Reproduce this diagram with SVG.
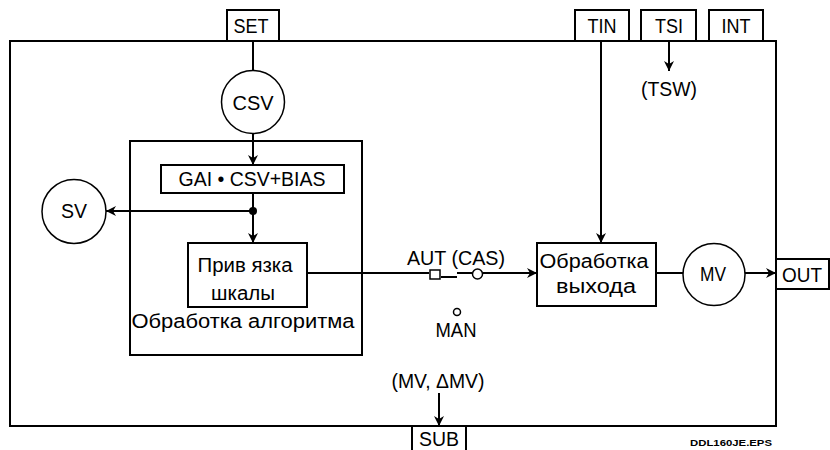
<svg xmlns="http://www.w3.org/2000/svg" width="830" height="450" viewBox="0 0 830 450">
<defs>
<marker id="ah" viewBox="0 0 10 10" refX="10" refY="5" markerWidth="10" markerHeight="10" markerUnits="userSpaceOnUse" orient="auto">
<path d="M0,0 L10,5 L0,10 L3,5 Z" fill="#000"/>
</marker>
</defs>
<style>
text{font-family:"Liberation Sans",Arial,sans-serif;font-size:20px;fill:#000}
.box{fill:#fff;stroke:#000;stroke-width:2}
.circ{fill:#fff;stroke:#000;stroke-width:1.5}
.ln{fill:none;stroke:#000;stroke-width:2}
.arr{fill:none;stroke:#000;stroke-width:2;marker-end:url(#ah)}
.c{text-anchor:middle}
.tag{font-size:9px;font-weight:bold}
</style>
<rect width="830" height="450" fill="#fff"/>
<g id="frame"><rect x="10" y="41" width="766" height="385" fill="none" stroke="#000" stroke-width="2"/></g>
<g id="algo"><rect x="130" y="141" width="232" height="214" class="box"/>
<text x="243" y="328" class="c" textLength="223" lengthAdjust="spacingAndGlyphs">Обработка алгоритма</text></g>
<g id="connectors">
<line x1="253" y1="41" x2="253" y2="70" class="ln"/>
<line x1="253" y1="133" x2="253" y2="165" class="arr"/>
<line x1="253" y1="193" x2="253" y2="211" class="ln"/>
<line x1="253" y1="211" x2="106" y2="211" class="arr"/>
<line x1="253" y1="211" x2="253" y2="243" class="arr"/>
<circle cx="253" cy="211" r="4" fill="#000"/>
<polyline points="307,273 429,273" class="ln"/>
<polyline points="441,277 457,277" class="ln"/>
<polyline points="457,273 472,273" class="ln"/>
<line x1="483" y1="273" x2="537" y2="273" class="arr"/>
<line x1="601" y1="41" x2="601" y2="243" class="arr"/>
<line x1="669" y1="41" x2="669" y2="71" class="arr"/>
<line x1="656" y1="273" x2="683" y2="273" class="ln"/>
<line x1="745" y1="273" x2="776" y2="273" class="arr"/>
<line x1="439" y1="393" x2="439" y2="426" class="arr"/>
<rect x="430" y="270" width="10" height="9" fill="#fff" stroke="#000" stroke-width="1.5"/>
<circle cx="477.5" cy="274" r="5" fill="#fff" stroke="#000" stroke-width="1.5"/>
<circle cx="457" cy="312" r="3.5" fill="#fff" stroke="#000" stroke-width="1.5"/>
</g>
<g id="set"><rect x="227" y="10" width="52" height="31" class="box"/><text x="251" y="33" class="c" textLength="35" lengthAdjust="spacingAndGlyphs">SET</text></g>
<g id="tin"><rect x="575" y="10" width="54" height="31" class="box"/><text x="602" y="33" class="c" textLength="29" lengthAdjust="spacingAndGlyphs">TIN</text></g>
<g id="tsi"><rect x="641" y="10" width="55" height="31" class="box"/><text x="669" y="33" class="c" textLength="28" lengthAdjust="spacingAndGlyphs">TSI</text></g>
<g id="int"><rect x="709" y="10" width="54" height="31" class="box"/><text x="736" y="33" class="c" textLength="29" lengthAdjust="spacingAndGlyphs">INT</text></g>
<g id="tsw"><text x="669" y="96" class="c" textLength="56" lengthAdjust="spacingAndGlyphs">(TSW)</text></g>
<g id="csv"><circle cx="253" cy="102" r="31.5" class="circ"/><text x="253" y="110" class="c" textLength="41" lengthAdjust="spacingAndGlyphs">CSV</text></g>
<g id="gai"><rect x="161" y="165" width="183" height="28" class="box"/><text x="252" y="186" class="c" textLength="147" lengthAdjust="spacingAndGlyphs">GAI • CSV+BIAS</text></g>
<g id="sv"><circle cx="74" cy="211.5" r="32" class="circ"/><text x="74" y="218" class="c" textLength="26" lengthAdjust="spacingAndGlyphs">SV</text></g>
<g id="scale"><rect x="188" y="243" width="119" height="64" class="box"/>
<text x="245" y="272" class="c" textLength="95" lengthAdjust="spacingAndGlyphs">Прив язка</text>
<text x="243" y="300" class="c" textLength="64" lengthAdjust="spacingAndGlyphs">шкалы</text></g>
<g id="switch"><text x="456" y="265" class="c" textLength="98" lengthAdjust="spacingAndGlyphs">AUT (CAS)</text>
<text x="456" y="337" class="c" textLength="41" lengthAdjust="spacingAndGlyphs">MAN</text></g>
<g id="outproc"><rect x="537" y="243" width="119" height="63" class="box"/>
<text x="594" y="268" class="c" textLength="109" lengthAdjust="spacingAndGlyphs">Обработка</text>
<text x="596" y="293" class="c" textLength="80" lengthAdjust="spacingAndGlyphs">выхода</text></g>
<g id="mv"><circle cx="714" cy="274.5" r="31" class="circ"/><text x="713" y="281" class="c" textLength="26" lengthAdjust="spacingAndGlyphs">MV</text></g>
<g id="out"><rect x="776" y="259" width="53" height="30" class="box"/><text x="802" y="282" class="c" textLength="40" lengthAdjust="spacingAndGlyphs">OUT</text></g>
<g id="mvlabel"><text x="438" y="388" class="c" textLength="93" lengthAdjust="spacingAndGlyphs">(MV, ΔMV)</text></g>
<g id="sub"><rect x="412" y="426" width="54" height="30" class="box"/><text x="439" y="446" class="c" textLength="40" lengthAdjust="spacingAndGlyphs">SUB</text></g>
<text x="690" y="446" class="tag" textLength="82" lengthAdjust="spacingAndGlyphs">DDL160JE.EPS</text>
</svg>
